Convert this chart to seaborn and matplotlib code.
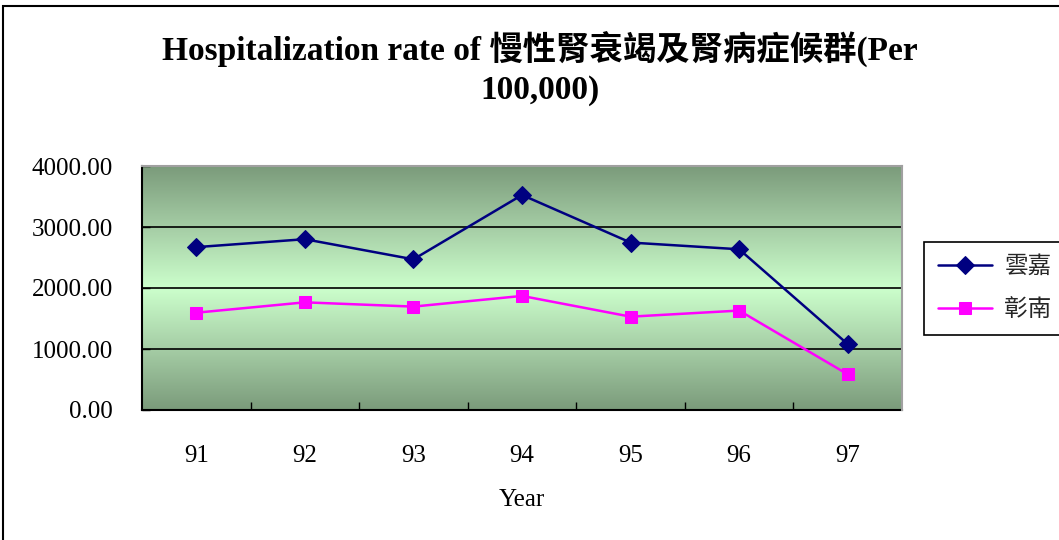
import numpy as np
import pandas as pd
import matplotlib
matplotlib.use("Agg")
import matplotlib.pyplot as plt
from matplotlib.colors import LinearSegmentedColormap
from matplotlib.patches import Rectangle
from matplotlib.ticker import FixedLocator, FormatStrFormatter, NullFormatter
import seaborn as sns

# Hospitalization rate per 100,000, by year (ROC calendar)
years = ["91", "92", "93", "94", "95", "96", "97"]
yunjia = [2670, 2800, 2470, 3525, 2745, 2635, 1080]
zhangnan = [1595, 1765, 1695, 1870, 1530, 1630, 585]
series_names = ["雲嘉", "彰南"]
y_ticks = [0, 1000, 2000, 3000, 4000]

title = "Hospitalization rate of 慢性腎衰竭及腎病症候群(Per\n100,000)"

sns.set_theme(style="white")
plt.rcParams["font.family"] = ["Liberation Serif", "Noto Sans CJK TC", "DejaVu Sans"]

df = pd.DataFrame({
    "Year": years * 2,
    "rate": yunjia + zhangnan,
    "region": [series_names[0]] * len(years) + [series_names[1]] * len(years),
})

fig = plt.figure(figsize=(10.59, 5.40), dpi=100)
ax = fig.add_axes([142 / 1059, 130 / 540, 760 / 1059, 244 / 540])

# Plot-area background: dark green at the edges fading to pale green in the middle
cmap = LinearSegmentedColormap.from_list(
    "bg", ["#7B9B7B", "#A5CDA5", "#CCFFCC", "#A5CDA5", "#7B9B7B"])
grad = np.linspace(0, 1, 256).reshape(-1, 1)
ax.imshow(grad, cmap=cmap, aspect="auto", extent=[-0.5, 6.5, 0, 4000],
          origin="lower", zorder=0, interpolation="bicubic")

styles = {
    series_names[0]: dict(color="#000080", marker="D", markersize=9),
    series_names[1]: dict(color="#FF00FF", marker="s", markersize=9),
}
handles = []
for name in series_names:
    sub = df[df["region"] == name]
    st = styles[name]
    sns.lineplot(data=sub, x="Year", y="rate", ax=ax, color=st["color"],
                 marker=st["marker"], markersize=st["markersize"],
                 markeredgecolor=st["color"], markerfacecolor=st["color"],
                 linewidth=1.8, zorder=3, label=name, legend=False)
    handles.append(ax.lines[-1])

ax.set_xlim(-0.5, 6.5)
ax.set_ylim(0, 4000)
ax.set_yticks(y_ticks)
ax.yaxis.set_major_formatter(FormatStrFormatter("%.2f"))
ax.set_xticks(range(len(years)))
ax.set_xticklabels(years)
ax.xaxis.set_minor_locator(FixedLocator(np.arange(0.5, 6.0, 1.0)))
ax.xaxis.set_minor_formatter(NullFormatter())

ax.tick_params(axis="x", which="major", length=0, pad=25, labelsize=18,
               colors="black")
ax.tick_params(axis="x", which="minor", direction="in", length=6, width=1,
               color="black", bottom=True)
ax.tick_params(axis="y", which="major", direction="in", length=6, width=1,
               pad=21, labelsize=18, colors="black", left=True)

ax.yaxis.grid(True, color="black", linewidth=1.2)
ax.xaxis.grid(False)
ax.set_axisbelow(False)
for ln in ax.get_ygridlines():
    ln.set_zorder(1)

for side in ("left", "bottom"):
    ax.spines[side].set_color("black")
    ax.spines[side].set_linewidth(1.5)
for side in ("top", "right"):
    ax.spines[side].set_color("#A0A0A0")
    ax.spines[side].set_linewidth(1.5)
    ax.spines[side].set_zorder(4)

ax.set_xlabel("Year", fontsize=18, labelpad=16, color="black")
ax.set_ylabel("")

fig.text(0.51, 1 - 68 / 540, title, ha="center", va="center",
         fontsize=24, fontweight="bold", linespacing=1.32, color="black")

leg = fig.legend(handles=handles, labels=series_names,
                 loc="upper left", bbox_to_anchor=(924 / 1059, 1 - 242 / 540),
                 borderaxespad=0, fontsize=17, frameon=True, fancybox=False,
                 edgecolor="black", facecolor="white", framealpha=1,
                 handlelength=2.3, handletextpad=0.5, borderpad=0.6,
                 labelspacing=0.9)
leg.get_frame().set_linewidth(1.2)

# Outer chart frame
fig.patches.append(Rectangle((3 / 1059, -0.1), 1.2, 1.1 - 6 / 540,
                             transform=fig.transFigure, fill=False,
                             edgecolor="black", linewidth=1.5, zorder=10))

fig.savefig("out.png", dpi=100)
